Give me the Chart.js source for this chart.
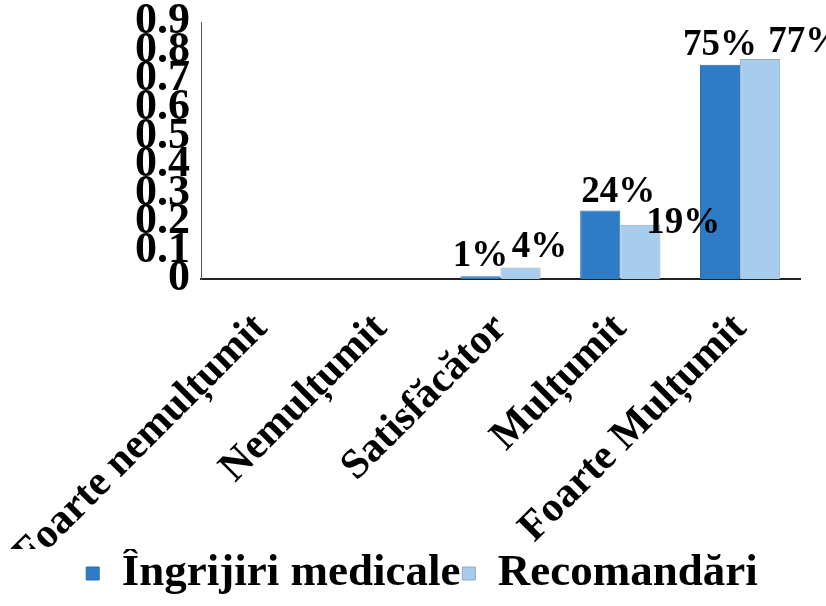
<!DOCTYPE html>
<html>
<head>
<meta charset="utf-8">
<script src="https://cdn.jsdelivr.net/npm/chart.js@4/dist/chart.umd.min.js"></script>
<style>
html,body{margin:0;padding:0;background:#fff;}
#wrap{width:826px;height:606px;position:relative;}
</style>
</head>
<body>
<div id="wrap"><canvas id="c" width="826" height="606"></canvas></div>
<script>
const categories = ["Foarte nemulțumit", "Nemulțumit", "Satisfăcător", "Mulțumit", "Foarte Mulțumit"];
const seriesNames = ["Îngrijiri medicale", "Recomandări"];
const ingrijiriMedicale = [0, 0, 0.01, 0.24, 0.75];
const recomandari = [0, 0, 0.04, 0.19, 0.77];
const yTickLabels = ["0", "0.1", "0.2", "0.3", "0.4", "0.5", "0.6", "0.7", "0.8", "0.9"];

const FONT = "'Liberation Serif', 'Times New Roman', serif";
const DARK = "#2E7BC6";
const LIGHT = "#A7CCEC";

// label placement nudges (styling, relative to each bar top): [dx, dy above]
const labelNudge = [
  [[0,10],[0,10],[0,10],[18,8],[0,10]],
  [[0,10],[0,10],[19,11],[43,-8],[45,7]]
];

const dataLabels = {
  id: 'dataLabels',
  afterDatasetsDraw(chart) {
    const ctx = chart.ctx;
    ctx.save();
    ctx.font = "bold 37px " + FONT;
    ctx.fillStyle = "#000";
    ctx.textAlign = "center";
    ctx.textBaseline = "alphabetic";
    chart.data.datasets.forEach((ds, di) => {
      const meta = chart.getDatasetMeta(di);
      meta.data.forEach((el, i) => {
        const v = ds.data[i];
        if (!v) return;
        const [dx, dy] = labelNudge[di][i];
        ctx.fillText(Math.round(v * 100) + "%", el.x + dx, el.y - dy);
      });
    });
    ctx.restore();
  }
};

const legendShift = {
  id: 'legendShift',
  afterLayout(chart) {
    const lg = chart.legend;
    if (!lg) return;
    lg.left += 22; lg.right += 22;
    if (lg.legendHitBoxes) lg.legendHitBoxes.forEach(h => { h.left += 22; });
  }
};

new Chart(document.getElementById('c'), {
  type: 'bar',
  data: {
    labels: categories,
    datasets: [
      { label: seriesNames[0], data: ingrijiriMedicale, backgroundColor: DARK, borderColor: "#2A6DB0", borderWidth: 1 },
      { label: seriesNames[1], data: recomandari, backgroundColor: LIGHT, borderColor: "#93AAC2", borderWidth: 1 }
    ]
  },
  options: {
    responsive: false,
    animation: false,
    layout: { padding: { top: 22, right: 26, left: 0, bottom: 0 } },
    datasets: { bar: { categoryPercentage: 0.67, barPercentage: 1.0 } },
    plugins: {
      legend: {
        position: 'bottom',
        labels: {
          font: { family: FONT, size: 45, weight: 'bold', lineHeight: 1.1 },
          color: '#000',
          boxWidth: 13,
          boxHeight: 13,
          padding: 2
        }
      },
      tooltip: { enabled: false }
    },
    scales: {
      x: {
        grid: { display: false },
        border: { display: true, color: '#222', width: 2 },
        ticks: {
          autoSkip: false,
          minRotation: 45,
          maxRotation: 45,
          padding: 17,
          color: '#000',
          font: { family: FONT, size: 42, weight: 'bold' }
        },
        afterFit(scale) {
          scale.height = 270;
          scale.paddingLeft = 0;
          scale.paddingRight = 0;
        }
      },
      y: {
        min: 0,
        max: 0.9,
        grid: { display: false },
        border: { display: true, color: '#555', width: 1 },
        ticks: {
          autoSkip: false,
          stepSize: 0.1,
          padding: 3,
          color: '#000',
          font: { family: FONT, size: 44, weight: 'bold' },
          callback: (v, i) => yTickLabels[i]
        },
        afterFit(scale) {
          scale.width = 201;
          scale.paddingTop = 0;
          scale.paddingBottom = 0;
        }
      }
    }
  },
  plugins: [dataLabels, legendShift]
});
</script>
</body>
</html>
